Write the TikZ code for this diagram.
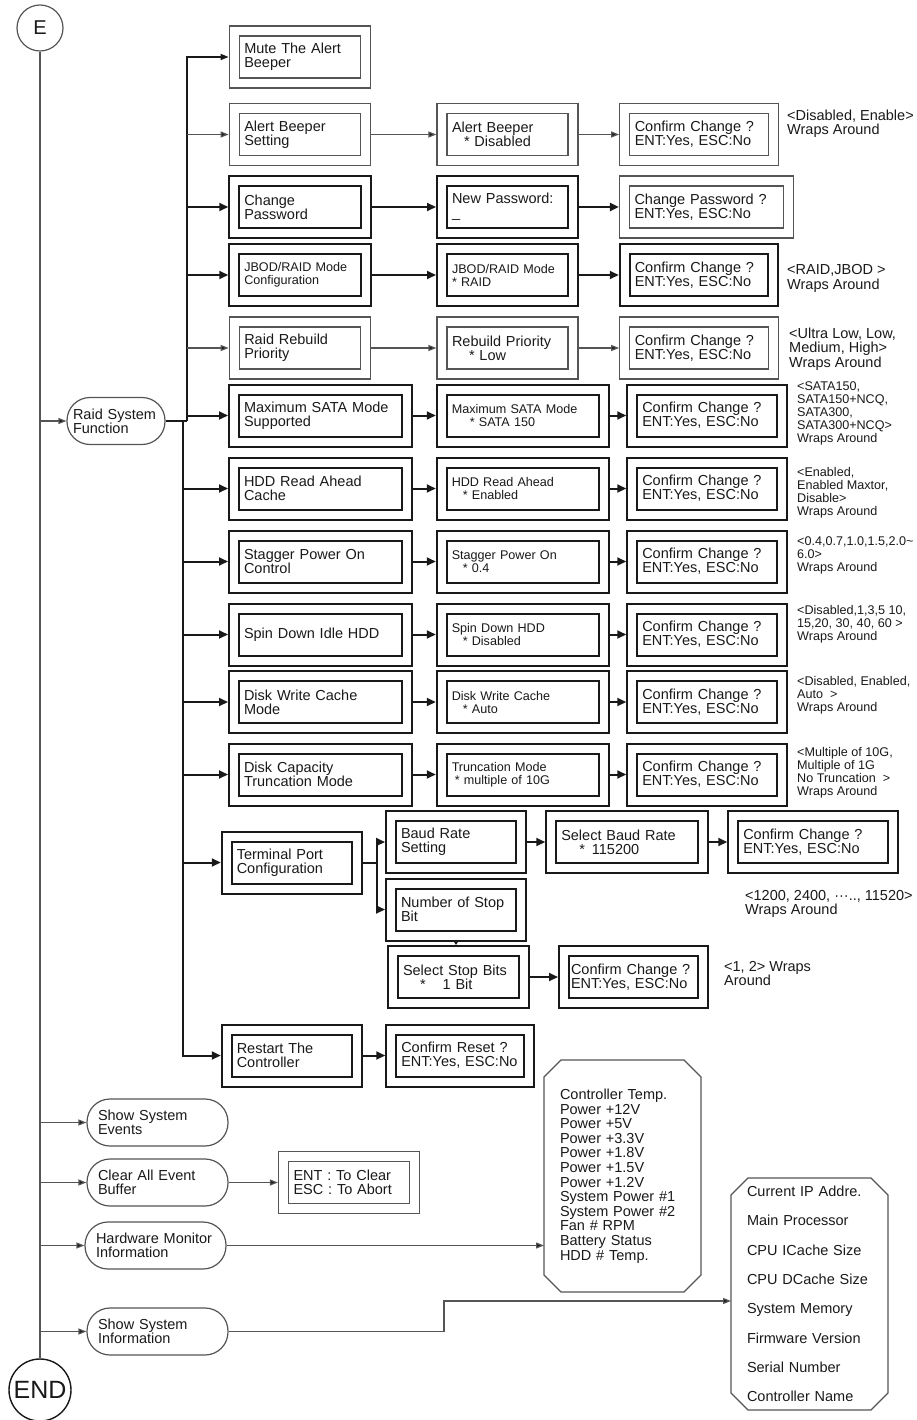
\documentclass[tikz,border=0pt]{standalone}
\usepackage{fontspec}
\setmainfont{Liberation Sans}
\usetikzlibrary{positioning, arrows.meta}
\definecolor{inkdark}{RGB}{25,25,25}
\definecolor{inkgray}{RGB}{85,85,85}
\newcommand{\nrm}{\fontsize{14.5}{14.3}\selectfont}
\newcommand{\sml}{\fontsize{12.6}{13}\selectfont}
% chamfered outline round a list node
\newcommand{\octoutline}[1]{%
  \draw[octline] ([xshift=17pt]#1.north west) -- ([xshift=-17pt]#1.north east)
    -- ([yshift=-17pt]#1.north east) -- ([yshift=17pt]#1.south east)
    -- ([xshift=-17pt]#1.south east) -- ([xshift=17pt]#1.south west)
    -- ([yshift=17pt]#1.south west) -- ([yshift=-17pt]#1.north west) -- cycle;}

\begin{document}
\begin{tikzpicture}[
  x=1pt, y=-1pt,
  font=\nrm, text=inkdark,
  dbox/.style={draw=inkdark, double, double distance=8pt, line width=2pt, outer sep=6pt,
    minimum height=52pt, inner xsep=10pt, inner ysep=4pt, align=left, text width=#1},
  tbox/.style={dbox=#1, draw=inkgray, line width=1.2pt, double distance=8.8pt, outer sep=5.6pt},
  pill/.style={draw=inkgray, line width=1.2pt, rounded corners=23pt, minimum height=47pt,
    inner xsep=11pt, align=left, text width=#1},
  octa/.style={minimum height=232pt, inner xsep=16pt, text width=125pt, outer sep=0pt, align=left},
  octline/.style={draw=inkgray, line width=1.3pt},
  note/.style={anchor=west, inner sep=0pt, align=left},
  arr/.style={-{Triangle[length=9pt,width=8pt]}, line width=2pt, draw=inkdark},
  tarr/.style={-{Triangle[length=8pt,width=6pt,fill=inkdark]}, line width=1.2pt, draw=inkgray}
]
\useasboundingbox (0,0) rectangle (917,1420);

% start and end
\node[circle, draw=inkgray, line width=1.2pt, minimum size=46pt, inner sep=0pt,
  font=\fontsize{20}{20}\selectfont] (E) at (40,28) {E};
\node[circle, draw=inkdark, line width=1.4pt, minimum size=62pt, inner sep=0pt,
  font=\fontsize{25}{25}\selectfont] (END) at (40,1390) {END};
\draw[line width=1.2pt, draw=inkgray] (E) -- (END);

% top level menu
\node[pill=86pt, inner xsep=6pt] (raid) at (116,421) {Raid System\\Function};
\node[pill=119pt] (events) at (157.5,1122.5) {Show System\\Events};
\node[pill=119pt] (clear) at (157.5,1182.5) {Clear All Event\\Buffer};
\node[pill=119pt] (hwmon) at (155.5,1245.5) {Hardware Monitor\\Information};
\node[pill=119pt] (sysinfo) at (157.5,1331.5) {Show System\\Information};

% raid system function items
\node[tbox=111.5pt] (mute) at (300,57) {Mute The Alert\\Beeper};
\node[tbox=111.5pt] (alert) at (300,134.5) {Alert Beeper\\Setting};
\node[dbox=111.5pt] (chpw) at (300,207) {Change\\Password};
\node[dbox=111.5pt, font=\sml] (jbod) at (300,275) {JBOD/RAID Mode\\Configuration};
\node[tbox=111.5pt] (rebuild) at (300,348) {Raid Rebuild\\Priority};
\node[dbox=153pt] (sata) at (320.5,415.5) {Maximum SATA Mode\\Supported};
\node[dbox=153pt] (ahead) at (320.5,488.5) {HDD Read Ahead\\Cache};
\node[dbox=153pt] (stagger) at (320.5,561.5) {Stagger Power On\\Control};
\node[dbox=153pt] (spin) at (320.5,634.5) {Spin Down Idle HDD};
\node[dbox=153pt] (wcache) at (320.5,702) {Disk Write Cache\\Mode};
\node[dbox=153pt] (trunc) at (320.5,774.5) {Disk Capacity\\Truncation Mode};
\node[dbox=110.5pt] (term) at (292,862.5) {Terminal Port\\Configuration};
\node[dbox=110.5pt] (restart) at (292,1055.5) {Restart The\\Controller};

% settings
\node[tbox=111pt] (alertset) at (507.5,134.5) {Alert Beeper\\\hspace*{12pt}* Disabled};
\node[dbox=111pt] (newpw) at (507.5,207) {New Password:\\\_};
\node[dbox=111pt, font=\sml] (jbodset) at (507.5,275) {JBOD/RAID Mode\\{}* RAID};
\node[tbox=111pt] (rebuildset) at (507.5,348) {Rebuild Priority\\\hspace*{17pt}* Low};
\node[dbox=142.5pt, font=\sml] (sataset) at (523,415.5) {Maximum SATA Mode\\\hspace*{18pt}* SATA 150};
\node[dbox=142.5pt, font=\sml] (aheadset) at (523,488.5) {HDD Read Ahead\\\hspace*{11pt}* Enabled};
\node[dbox=142.5pt, font=\sml] (staggerset) at (523,561.5) {Stagger Power On\\\hspace*{11pt}* 0.4};
\node[dbox=142.5pt, font=\sml] (spinset) at (523,634.5) {Spin Down HDD\\\hspace*{11pt}* Disabled};
\node[dbox=142.5pt, font=\sml] (wcacheset) at (523,702) {Disk Write Cache\\\hspace*{11pt}* Auto};
\node[dbox=142.5pt, font=\sml] (truncset) at (523,774.5) {Truncation Mode\\\hspace*{3pt}* multiple of 10G};

% confirmations
\node[tbox=128.5pt] (alertok) at (699,134.5) {Confirm Change ?\\ENT:Yes, ESC:No};
\node[tbox=144pt] (chpwok) at (706.5,207) {Change Password ?\\ENT:Yes, ESC:No};
\node[dbox=128.5pt] (jbodok) at (699,275) {Confirm Change ?\\ENT:Yes, ESC:No};
\node[tbox=128.5pt] (rebuildok) at (699,348) {Confirm Change ?\\ENT:Yes, ESC:No};
\node[dbox=129.5pt] (sataok) at (707,415.5) {Confirm Change ?\\ENT:Yes, ESC:No};
\node[dbox=129.5pt] (aheadok) at (707,488.5) {Confirm Change ?\\ENT:Yes, ESC:No};
\node[dbox=129.5pt] (staggerok) at (707,561.5) {Confirm Change ?\\ENT:Yes, ESC:No};
\node[dbox=129.5pt] (spinok) at (707,634.5) {Confirm Change ?\\ENT:Yes, ESC:No};
\node[dbox=129.5pt] (wcacheok) at (707,702) {Confirm Change ?\\ENT:Yes, ESC:No};
\node[dbox=129.5pt] (truncok) at (707,774.5) {Confirm Change ?\\ENT:Yes, ESC:No};

% terminal port
\node[dbox=110pt] (baud) at (456,842) {Baud Rate\\Setting};
\node[dbox=131.5pt] (baudset) at (627,842) {Select Baud Rate\\\hspace*{18pt}*\hspace{7pt}115200};
\node[dbox=139.5pt] (baudok) at (813,842) {Confirm Change ?\\ENT:Yes, ESC:No};
\node[dbox=110pt] (nstop) at (456,909.5) {Number of Stop\\Bit};
\node[dbox=111pt] (stopset) at (458.5,977) {Select Stop Bits\\\hspace*{17pt}*\hspace{17pt}1 Bit};
\node[dbox=125pt, inner xsep=7pt] (stopok) at (633.5,977) {Confirm Change ?\\ENT:Yes, ESC:No};
\node[dbox=117.5pt] (resetok) at (460,1055.5) {Confirm Reset ?\\ENT:Yes, ESC:No};

% event buffer and info lists
\node[tbox=111pt] (clearok) at (349,1182.5) {ENT : To Clear\\ESC : To Abort};
\node[octa, font=\fontsize{14.5}{14.6}\selectfont] (hwlist) at (622.5,1176) {Controller Temp.\\Power +12V\\Power +5V\\Power +3.3V\\Power +1.8V\\Power +1.5V\\Power +1.2V\\System Power \#1\\System Power \#2\\Fan \# RPM\\Battery Status\\HDD \# Temp.};
\node[octa, font=\fontsize{14.5}{29.3}\selectfont] (infolist) at (809.5,1294) {Current IP Addre.\\Main Processor\\CPU ICache Size\\CPU DCache Size\\System Memory\\Firmware Version\\Serial Number\\Controller Name};
\octoutline{hwlist}
\octoutline{infolist}

% value ranges
\node[note] (alertrng) at (787,123.5) {<Disabled, Enable>\\Wraps Around};
\node[note] (jbodrng) at (787,278.5) {<RAID,JBOD >\\Wraps Around};
\node[note] (rebuildrng) at (789,349) {<Ultra Low, Low,\\Medium, High>\\Wraps Around};
\node[note, font=\sml] (satarng) at (797,413) {<SATA150,\\SATA150+NCQ,\\SATA300,\\SATA300+NCQ>\\Wraps Around};
\node[note, font=\sml] (aheadrng) at (797,492.5) {<Enabled,\\Enabled Maxtor,\\Disable>\\Wraps Around};
\node[note, font=\sml] (staggerrng) at (797,555.5) {<0.4,0.7,1.0,1.5,2.0\textasciitilde\\6.0>\\Wraps Around};
\node[note, font=\sml] (spinrng) at (797,624) {<Disabled,1,3,5 10,\\15,20, 30, 40, 60 >\\Wraps Around};
\node[note, font=\sml] (wcacherng) at (797,695) {<Disabled, Enabled,\\Auto\ \ >\\Wraps Around};
\node[note, font=\sml] (truncrng) at (797,773) {<Multiple of 10G,\\Multiple of 1G\\No Truncation\ \ >\\Wraps Around};
\node[note] (baudrng) at (745,904) {<1200, 2400, ···.., 11520>\\Wraps Around};
\node[note] (stoprng) at (724,973.5) {<1, 2> Wraps\\Around};

% main line branches
\draw[tarr] (E |- raid) -- (raid);
\draw[tarr] (E |- events) -- (events);
\draw[tarr] (E |- clear) -- (clear);
\draw[tarr] (E |- hwmon) -- (hwmon);
\draw[tarr] (E |- sysinfo) -- (sysinfo);

% raid function buses
\coordinate (busup) at (187,421);
\coordinate (busdn) at (183,421);
\draw[line width=2pt, draw=inkdark] (raid) -- (busup);
\draw[tarr, line width=1.6pt, draw=inkdark] (busup) |- (mute);
\draw[tarr] (busup |- alert) -- (alert);
\draw[arr] (busup |- chpw) -- (chpw);
\draw[arr] (busup |- jbod) -- (jbod);
\draw[tarr] (busup |- rebuild) -- (rebuild);
\draw[arr] (busup |- sata) -- (sata);
\draw[arr] (busdn) |- (restart);
\draw[arr] (busdn |- ahead) -- (ahead);
\draw[arr] (busdn |- stagger) -- (stagger);
\draw[arr] (busdn |- spin) -- (spin);
\draw[arr] (busdn |- wcache) -- (wcache);
\draw[arr] (busdn |- trunc) -- (trunc);
\draw[arr] (busdn |- term) -- (term);

% rows
\draw[tarr] (alert) -- (alertset);
\draw[tarr] (alertset) -- (alertok);
\draw[arr] (chpw) -- (newpw);
\draw[arr] (newpw) -- (chpwok);
\draw[arr] (jbod) -- (jbodset);
\draw[arr] (jbodset) -- (jbodok);
\draw[tarr] (rebuild) -- (rebuildset);
\draw[tarr] (rebuildset) -- (rebuildok);
\draw[arr] (sata) -- (sataset);
\draw[arr] (sataset) -- (sataok);
\draw[arr] (ahead) -- (aheadset);
\draw[arr] (aheadset) -- (aheadok);
\draw[arr] (stagger) -- (staggerset);
\draw[arr] (staggerset) -- (staggerok);
\draw[arr] (spin) -- (spinset);
\draw[arr] (spinset) -- (spinok);
\draw[arr] (wcache) -- (wcacheset);
\draw[arr] (wcacheset) -- (wcacheok);
\draw[arr] (trunc) -- (truncset);
\draw[arr] (truncset) -- (truncok);

% terminal port branch
\coordinate (tbus) at (377,862.5);
\draw[line width=2pt, draw=inkdark] (term) -- (tbus);
\draw[arr] (tbus) |- (baud);
\draw[arr] (tbus) |- (nstop);
\draw[arr] (baud) -- (baudset);
\draw[arr] (baudset) -- (baudok);
\draw[arr, -{Triangle[length=5pt,width=6pt]}] (nstop.south) -- (nstop.south |- stopset.north);
\draw[arr] (stopset) -- (stopok);
\draw[arr] (restart) -- (resetok);

% lower branches
\draw[tarr] (clear) -- (clearok);
\draw[tarr] (hwmon) -- (hwmon -| hwlist.west);
\coordinate (kink) at (444,1301);
\draw[tarr] (sysinfo) -| (kink) -- (kink -| infolist.west);
\end{tikzpicture}
\end{document}
